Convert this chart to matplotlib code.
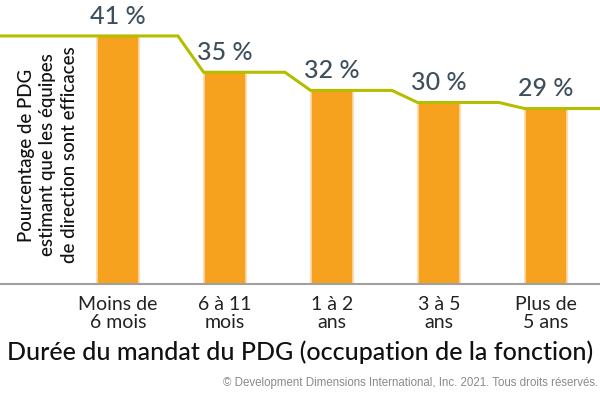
import matplotlib
matplotlib.use('Agg')
import matplotlib.pyplot as plt

plt.rcParams['font.family'] = ['Lato', 'DejaVu Sans']

# données
categories = ['Moins de\n6 mois', '6 à 11\nmois', '1 à 2\nans', '3 à 5\nans', 'Plus de\n5 ans']
valeurs = [41, 35, 32, 30, 29]

orange = '#F7A21E'
vert = '#B4BD00'
ardoise = '#3D4F5C'

fig = plt.figure(figsize=(6, 3.98), dpi=100)
ax = fig.add_axes([0, (398 - 284) / 398, 1, 284 / 398])

x = list(range(len(valeurs)))
w = 0.40
ax.bar(x, valeurs, width=w, color=orange, edgecolor='#FCD9A8', linewidth=1.2, zorder=2)

# ligne en escalier
pente = 0.24
lx = [-2]
ly = [valeurs[0]]
for i in range(1, len(valeurs)):
    lx += [i - w / 2 - pente, i - w / 2]
    ly += [valeurs[i - 1], valeurs[i]]
lx.append(6)
ly.append(valeurs[-1])
ax.plot(lx, ly, color=vert, lw=2.2, zorder=3, solid_joinstyle='miter')

for i, v in enumerate(valeurs):
    ax.annotate(f'{v} %', (i, v), xytext=(0, 6), textcoords='offset points',
                ha='center', va='bottom', fontsize=18, color=ardoise, fontweight=500)

ax.set_xlim(-118 / 107, (600 - 118) / 107)
ax.set_ylim(0, 284 / 6.05)
for s in ['top', 'right', 'left']:
    ax.spines[s].set_visible(False)
ax.spines['bottom'].set_color('#A0A0A0')
ax.spines['bottom'].set_linewidth(1.5)
ax.set_yticks([])
ax.set_xticks(x)
ax.set_xticklabels(categories, fontsize=14, color='#222222', linespacing=1.05)
ax.tick_params(axis='x', length=0, pad=9)

fig.text(0.08, 1 - 155 / 398, 'Pourcentage de PDG\nestimant que les équipes\nde direction sont efficaces',
         rotation=90, ha='center', va='center', fontsize=13.5,
         color='#111111', linespacing=1.35, fontweight=500)

fig.text(0.5, 1 - 352 / 398, 'Durée du mandat du PDG (occupation de la fonction)',
         ha='center', va='center', fontsize=18, color='#111111', fontweight=500)

fig.text(0.997, 1 - 383 / 398, '© Development Dimensions International, Inc. 2021. Tous droits réservés.',
         ha='right', va='center', fontsize=8.3, color='#8A8A8A', family=['Liberation Sans', 'DejaVu Sans'])

fig.savefig('out.png', dpi=100)
